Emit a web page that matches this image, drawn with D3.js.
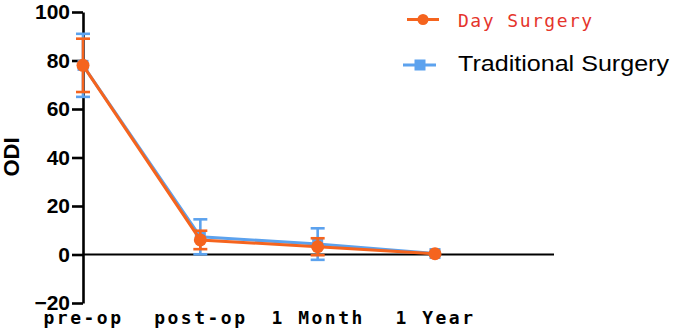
<!DOCTYPE html>
<html>
<head>
<meta charset="utf-8">
<script src="https://cdn.jsdelivr.net/npm/d3@7"></script>
<style>
  body { margin: 0; background: #fff; }
  svg { display: block; }
</style>
</head>
<body>
<div id="chart"></div>
<script>
var categories = ["pre-op", "post-op", "1 Month", "1 Year"];
var dayMean = [78, 6, 3.2, 0.3];
var daySd = [11, 3.8, 3.5, 0];
var tradMean = [78, 7.3, 4.3, 0.4];
var tradSd = [13, 7.2, 6.5, 0];
var yTicks = [-20, 0, 20, 40, 60, 80, 100];

var orange = "#f5641e";
var blue = "#5ca2ee";

var w = 675, h = 330;

var svg = d3.select("#chart")
            .append("svg")
            .attr("width", w)
            .attr("height", h);

var x = d3.scalePoint()
          .domain(categories)
          .range([83, 435]);

var y = d3.scaleLinear()
          .domain([-20, 100])
          .range([303, 12]);

// zero line
svg.append("line")
   .attr("x1", 83).attr("x2", 554)
   .attr("y1", y(0)).attr("y2", y(0))
   .attr("stroke", "#000")
   .attr("stroke-width", 2.2);

// y axis
var yAxis = svg.append("g")
               .attr("transform", "translate(83,0)")
               .call(d3.axisLeft(y).tickValues(yTicks).tickSize(11).tickSizeOuter(0).tickPadding(2));
yAxis.selectAll("path, line").attr("stroke", "#000").attr("stroke-width", 2.6);
yAxis.selectAll("text")
     .attr("font-family", "'Liberation Sans', Arial, sans-serif")
     .attr("font-weight", "bold")
     .attr("font-size", "21px")
     .attr("fill", "#000");

// x labels
var xAxis = svg.append("g")
               .call(d3.axisBottom(x).tickSize(0));
xAxis.select(".domain").remove();
xAxis.selectAll("text")
     .attr("y", 324)
     .attr("dy", 0)
     .attr("font-family", "'DejaVu Sans Mono', monospace")
     .attr("font-weight", "bold")
     .attr("font-size", "18px")
     .attr("letter-spacing", "2.5px")
     .attr("fill", "#000");

// y label
svg.append("text")
   .attr("transform", "translate(19,157) rotate(-90)")
   .attr("text-anchor", "middle")
   .attr("font-family", "'Liberation Sans', Arial, sans-serif")
   .attr("font-weight", "bold")
   .attr("font-size", "22px")
   .text("ODI");

function drawSeries(means, sds, color, marker) {
    var pts = categories.map(function(c, i) {
        return { c: c, m: means[i], s: sds[i] };
    });
    var line = d3.line()
                 .x(function(d) { return x(d.c); })
                 .y(function(d) { return y(d.m); });
    var g = svg.append("g");
    var bars = g.selectAll("g.err")
                .data(pts.filter(function(d) { return d.s > 0; }))
                .enter()
                .append("g")
                .attr("class", "err")
                .attr("stroke", color)
                .attr("stroke-width", 2.6);
    bars.append("line")
        .attr("x1", function(d) { return x(d.c); })
        .attr("x2", function(d) { return x(d.c); })
        .attr("y1", function(d) { return y(d.m - d.s); })
        .attr("y2", function(d) { return y(d.m + d.s); });
    [1, -1].forEach(function(sign) {
        bars.append("line")
            .attr("x1", function(d) { return x(d.c) - 7; })
            .attr("x2", function(d) { return x(d.c) + 7; })
            .attr("y1", function(d) { return y(d.m + sign * d.s); })
            .attr("y2", function(d) { return y(d.m + sign * d.s); });
    });
    g.append("path")
     .datum(pts)
     .attr("fill", "none")
     .attr("stroke", color)
     .attr("stroke-width", 3)
     .attr("d", line);
    if (marker === "square") {
        g.selectAll("rect.pt")
         .data(pts)
         .enter()
         .append("rect")
         .attr("x", function(d) { return x(d.c) - 5.5; })
         .attr("y", function(d) { return y(d.m) - 5.5; })
         .attr("width", 11).attr("height", 11)
         .attr("fill", color);
    } else {
        g.selectAll("circle.pt")
         .data(pts)
         .enter()
         .append("circle")
         .attr("cx", function(d) { return x(d.c); })
         .attr("cy", function(d) { return y(d.m); })
         .attr("r", 6.5)
         .attr("fill", color);
    }
}

drawSeries(tradMean, tradSd, blue, "square");
drawSeries(dayMean, daySd, orange, "circle");

// legend
var legend = svg.append("g");
legend.append("line")
      .attr("x1", 407).attr("x2", 439)
      .attr("y1", 19.5).attr("y2", 19.5)
      .attr("stroke", orange).attr("stroke-width", 3);
legend.append("circle")
      .attr("cx", 423).attr("cy", 19.5).attr("r", 5.5)
      .attr("fill", orange);
legend.append("text")
      .attr("x", 458).attr("y", 27)
      .attr("font-family", "'DejaVu Sans Mono', monospace")
      .attr("font-size", "18px")
      .attr("letter-spacing", "1.5px")
      .attr("fill", "#e5352c")
      .text("Day Surgery");
legend.append("line")
      .attr("x1", 403).attr("x2", 436)
      .attr("y1", 65).attr("y2", 65)
      .attr("stroke", blue).attr("stroke-width", 3);
legend.append("rect")
      .attr("x", 414.5).attr("y", 59.5)
      .attr("width", 11).attr("height", 11)
      .attr("fill", blue);
legend.append("text")
      .attr("x", 458).attr("y", 71)
      .attr("font-family", "'Liberation Sans', Arial, sans-serif")
      .attr("font-size", "22px")
      .attr("textLength", 211)
      .attr("lengthAdjust", "spacingAndGlyphs")
      .attr("fill", "#000")
      .text("Traditional Surgery");
</script>
</body>
</html>
